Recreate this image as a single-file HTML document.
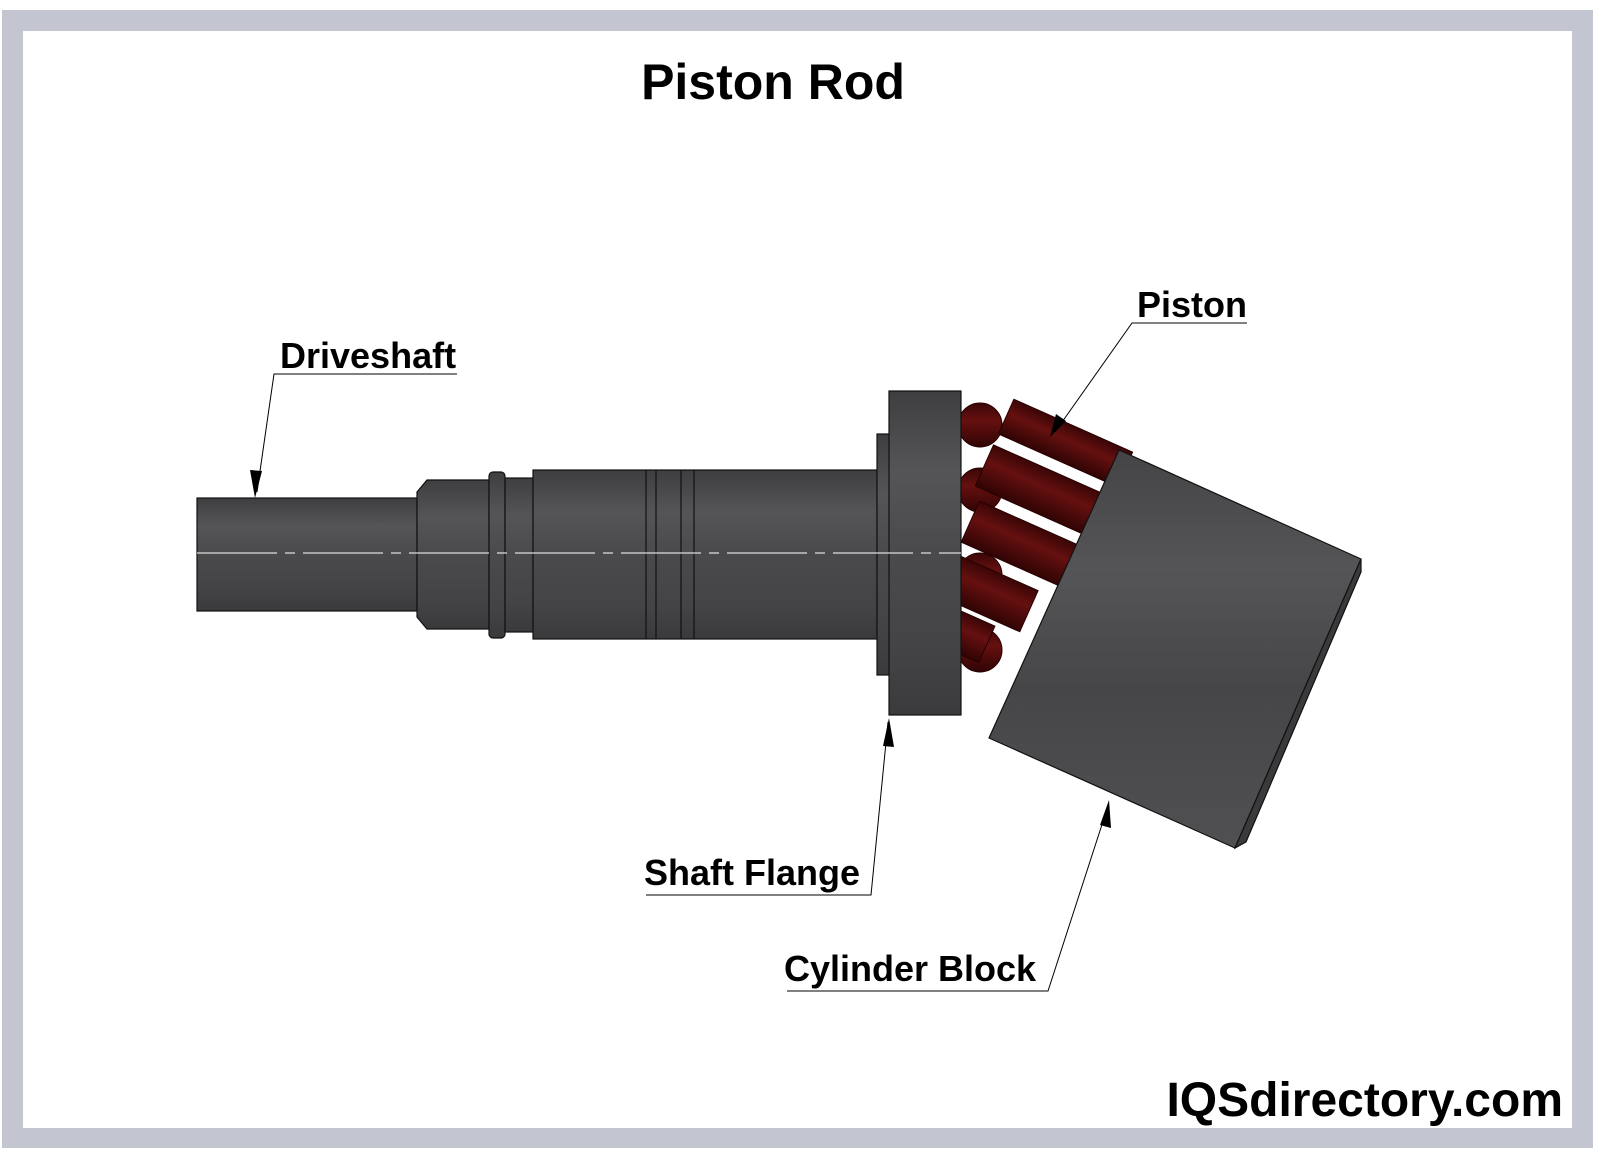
<!DOCTYPE html>
<html><head><meta charset="utf-8"><style>
html,body{margin:0;padding:0;background:#fff;width:1600px;height:1158px;overflow:hidden}
svg{display:block}
text{font-family:"Liberation Sans",Arial,sans-serif;font-weight:bold;fill:#000}
</style></head><body>
<svg width="1600" height="1158" viewBox="0 0 1600 1158">
<defs>
<linearGradient id="g" x1="0" y1="0" x2="0" y2="1">
<stop offset="0" stop-color="#3e3e40"/><stop offset="0.25" stop-color="#555557"/><stop offset="0.5" stop-color="#4a4a4c"/><stop offset="0.8" stop-color="#444446"/><stop offset="1" stop-color="#3a3a3c"/>
</linearGradient>
<linearGradient id="gb" x1="0" y1="0" x2="0" y2="1">
<stop offset="0" stop-color="#444446"/><stop offset="0.3" stop-color="#555557"/><stop offset="0.6" stop-color="#464648"/><stop offset="1" stop-color="#505052"/>
</linearGradient>
<linearGradient id="r" x1="0" y1="0" x2="0" y2="1">
<stop offset="0" stop-color="#3a0606"/><stop offset="0.4" stop-color="#661010"/><stop offset="1" stop-color="#300404"/>
</linearGradient>
</defs>
<rect x="2" y="10" width="1591" height="1138" fill="#c3c6d1"/>
<rect x="23" y="31" width="1549" height="1097" fill="#fff"/>

<text x="773" y="99" font-size="50" text-anchor="middle">Piston Rod</text>

<!-- pistons -->
<g fill="url(#r)" stroke="#2a0000" stroke-width="1">
<circle cx="980" cy="425" r="22"/>
<circle cx="980" cy="490" r="22"/>
<circle cx="980" cy="575" r="22"/>
<circle cx="980" cy="650" r="22"/>
<g transform="rotate(24 1060 480)">
<rect x="985" y="425" width="130" height="38"/>
<rect x="985" y="475" width="130" height="45"/>
<rect x="995" y="532" width="110" height="45"/>
<rect x="975" y="590" width="110" height="45"/>
<rect x="970" y="640" width="90" height="40"/>
</g>
</g>

<!-- shaft -->
<g stroke="#111" stroke-width="1.2">
<rect x="197" y="498" width="220" height="113" fill="url(#g)"/>
<polygon points="417,492 427,480 489,480 489,629 427,629 417,617" fill="url(#g)"/>
<rect x="489" y="472" width="16" height="166" rx="4" fill="url(#g)"/>
<rect x="505" y="478" width="28" height="154" fill="url(#g)"/>
<rect x="533" y="470" width="344" height="169" fill="url(#g)"/>
<line x1="646" y1="470" x2="646" y2="639"/><line x1="656" y1="470" x2="656" y2="639"/>
<line x1="681" y1="470" x2="681" y2="639"/><line x1="694" y1="470" x2="694" y2="639"/>
<rect x="877" y="434" width="14" height="241" fill="url(#g)"/>
<rect x="889" y="391" width="72" height="324" fill="url(#g)"/>
<polygon points="1119,450 1361,559 1235,848 989,738" fill="url(#gb)"/>
<polygon points="1361,559 1361,572 1246,842 1235,848" fill="#3a3a3c"/>
</g>
<line x1="197" y1="553" x2="961" y2="553" stroke="#ddd" stroke-width="1.2" stroke-dasharray="80 8 10 8"/>

<!-- labels -->
<g stroke="#000" stroke-width="1" fill="none">
<polyline points="457,374 274,374 257,492"/>
<polyline points="1247,323 1132,323 1055,432"/>
<polyline points="646,895 871,895 888,722"/>
<polyline points="787,991 1048,991 1108,806"/>
</g>
<g fill="#000">
<polygon points="255,498 250,470 262,471"/>
<polygon points="1050,437 1056,414 1066,421"/>
<polygon points="889,718 883,746 894,747"/>
<polygon points="1109,800 1100,825 1111,828"/>
</g>
<text x="280" y="368" font-size="36">Driveshaft</text>
<text x="1137" y="317" font-size="36">Piston</text>
<text x="644" y="885" font-size="36">Shaft Flange</text>
<text x="784" y="981" font-size="36">Cylinder Block</text>
<text x="1563" y="1116" font-size="48" text-anchor="end">IQSdirectory.com</text>
</svg>
</body></html>
